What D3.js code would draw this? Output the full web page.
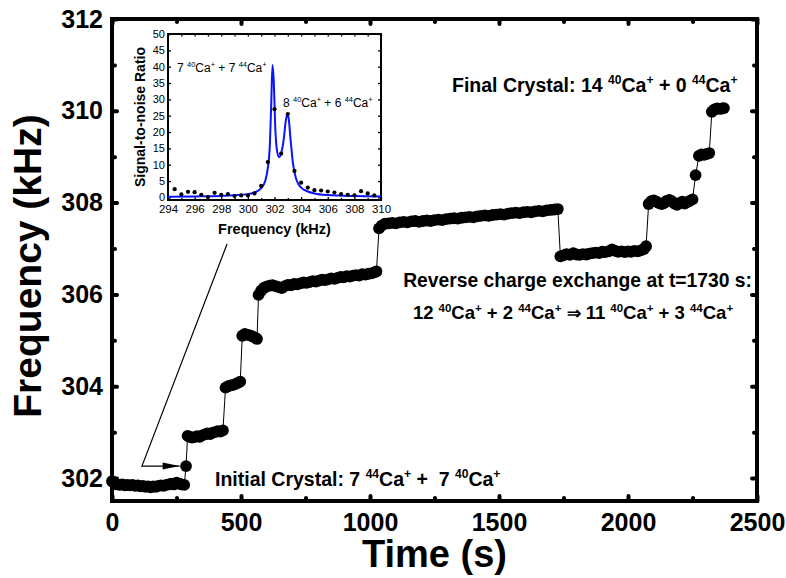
<!DOCTYPE html>
<html><head><meta charset="utf-8">
<script src="https://cdn.jsdelivr.net/npm/d3@7"></script>
<style>body{margin:0;background:#fff}svg{display:block}text{white-space:pre}</style>
</head><body>
<script>
// ---------- main series: frequency (kHz) vs time (s), one array per plateau ----------
const plateau1 = [[0,301.93],[10,301.88],[20,301.86],[30,301.85],[40,301.86],[50,301.84],[60,301.85],[70,301.84],[80,301.85],[90,301.83],[100,301.84],[110,301.82],[120,301.83],[130,301.81],[140,301.82],[150,301.80],[160,301.82],[170,301.81],[180,301.83],[190,301.84],[200,301.83],[210,301.85],[220,301.86],[230,301.88],[240,301.86],[250,301.90],[260,301.88],[270,301.86],[280,301.85]];
const single1 = [[287,302.26]];
const plateau2 = [[293,302.92],[300,302.90],[310,302.88],[320,302.89],[330,302.91],[340,302.90],[350,302.93],[360,302.95],[370,302.97],[380,302.96],[390,302.99],[400,303.00],[410,303.02],[420,303.01],[430,303.04]];
const plateau3 = [[440,303.97],[450,304.00],[460,304.02],[470,304.03],[480,304.05],[490,304.08],[497,304.10]];
const plateau4 = [[505,305.10],[515,305.14],[525,305.12],[535,305.11],[545,305.08],[555,305.06],[562,305.03]];
const plateau5 = [[568,305.99],[578,306.08],[588,306.14],[598,306.17],[610,306.19],[622,306.20],[634,306.18],[646,306.16],[658,306.14],[670,306.18],[682,306.21],[694,306.20],[706,306.23],[718,306.22],[730,306.24],[742,306.26],[754,306.25],[766,306.27],[778,306.29],[790,306.28],[802,306.30],[814,306.32],[826,306.31],[838,306.33],[850,306.35],[862,306.34],[874,306.36],[886,306.38],[898,306.37],[910,306.40],[922,306.39],[934,306.41],[946,306.42],[958,306.41],[970,306.44],[982,306.43],[994,306.45],[1006,306.46],[1016,306.48],[1025,306.50]];
const plateau6 = [[1035,307.44],[1045,307.50],[1058,307.54],[1072,307.55],[1086,307.56],[1100,307.55],[1115,307.57],[1130,307.58],[1145,307.57],[1160,307.59],[1175,307.60],[1190,307.58],[1205,307.60],[1220,307.61],[1235,307.60],[1250,307.62],[1265,307.63],[1280,307.62],[1295,307.64],[1310,307.65],[1325,307.66],[1340,307.65],[1355,307.67],[1370,307.68],[1385,307.69],[1400,307.68],[1415,307.70],[1430,307.71],[1445,307.72],[1460,307.71],[1475,307.73],[1490,307.74],[1505,307.75],[1520,307.74],[1535,307.76],[1550,307.77],[1565,307.78],[1580,307.77],[1595,307.79],[1610,307.80],[1625,307.79],[1640,307.81],[1655,307.82],[1670,307.81],[1685,307.83],[1700,307.84],[1715,307.85],[1728,307.86]];
const plateau7 = [[1738,306.83],[1750,306.85],[1762,306.88],[1775,306.86],[1788,306.90],[1800,306.87],[1812,306.86],[1825,306.88],[1838,306.87],[1850,306.89],[1862,306.90],[1875,306.91],[1888,306.90],[1900,306.93],[1912,306.92],[1925,306.94],[1938,306.98],[1950,306.95],[1962,306.93],[1975,306.94],[1988,306.92],[2000,306.94],[2012,306.93],[2025,306.95],[2038,306.94],[2050,306.96],[2062,306.99],[2070,307.05]];
const plateau8 = [[2080,307.97],[2090,308.03],[2100,308.05],[2110,308.02],[2120,307.99],[2130,307.97],[2140,307.99],[2150,308.04],[2160,308.06],[2170,308.03],[2180,307.98],[2190,307.95],[2200,307.99],[2210,308.02],[2220,307.98],[2230,308.01],[2240,308.04],[2250,308.07]];
const single2 = [[2262,308.60]];
const plateau9 = [[2275,309.02],[2285,309.05],[2295,309.04],[2305,309.06],[2315,309.08]];
const plateau10 = [[2325,309.98],[2335,310.03],[2345,310.05],[2355,310.04],[2365,310.05],[2372,310.06]];

const xTicks = [0,500,1000,1500,2000,2500];
const xMinor = [250,750,1250,1750,2250];
const yTicks = [302,304,306,308,310,312];
const yMinor = [303,305,307,309,311];

// ---------- inset: SNR vs frequency ----------
const insetPoints = [[294.5,2.5],[295,0.9],[295.5,1.7],[296,1.6],[296.5,0.8],[297,0.1],[297.5,1.4],[298,0.8],[298.5,1.0],[299,0.4],[299.5,0.6],[300,0.6],[300.5,1.2],[301,3.5],[301.5,10.8],[302,27],[302.5,13.4],[303,25.5],[303.5,8.1],[304,4.5],[304.5,3.0],[305,2.2],[305.5,2.1],[306,1.8],[306.5,1.5],[307,1.0],[307.5,0.8],[308,0.6],[308.5,1.9],[309,1.2],[309.5,0.6]];
const fitCurve = [[294,0.2],[296,0.3],[298,0.45],[299,0.65],[300,1.0],[300.5,1.5],[301,2.8],[301.3,5],[301.5,9],[301.65,16],[301.75,28],[301.85,40.5],[301.95,35],[302.05,22],[302.2,14],[302.35,12.3],[302.5,13.5],[302.7,18],[302.85,23.5],[302.95,25.3],[303.05,24.5],[303.2,18],[303.4,10],[303.6,6],[303.8,4],[304,3],[304.5,1.8],[305,1.2],[306,0.7],[308,0.4],[310,0.3]];
const insetXTicks = [294,296,298,300,302,304,306,308,310];
const insetXMinor = [295,297,299,301,303,305,307,309];
const insetYTicks = [0,5,10,15,20,25,30,35,40,45,50];

// annotation anchor points in data coordinates (time, frequency)
const arrowPath = [[446,307.1],[116,302.26],[262,302.26]];

const W = 786, H = 578;
const FONT = "'Liberation Sans', Arial, Helvetica, sans-serif";
const svg = d3.select("body").append("svg").attr("width", W).attr("height", H)
  .style("font-family", FONT);

const x = d3.scaleLinear().domain([0,2500]).range([112,757]);
const y = d3.scaleLinear().domain([301.5,312]).range([501,19]);

function styleAxis(g, sw){
  g.select(".domain").remove();
  g.selectAll(".tick line").attr("stroke","#000").attr("stroke-width",sw).attr("stroke-linecap","round");
}
svg.append("g").attr("transform",`translate(0,${y.range()[0]})`)
  .call(d3.axisBottom(x).tickValues(xTicks).tickSize(-5).tickPadding(12).tickFormat(d3.format("d")))
  .call(g=>{styleAxis(g,4); g.selectAll("text").attr("font-size",25).attr("font-weight","bold").attr("fill","#000");});
svg.append("g").attr("transform",`translate(0,${y.range()[0]})`)
  .call(d3.axisBottom(x).tickValues(xMinor).tickSize(-3).tickFormat(""))
  .call(g=>styleAxis(g,4));
svg.append("g").attr("transform",`translate(0,${y.range()[1]})`)
  .call(d3.axisTop(x).tickValues(xTicks).tickSize(-5).tickFormat(""))
  .call(g=>styleAxis(g,4));
svg.append("g").attr("transform",`translate(0,${y.range()[1]})`)
  .call(d3.axisTop(x).tickValues(xMinor).tickSize(-3).tickFormat(""))
  .call(g=>styleAxis(g,4));
svg.append("g").attr("transform",`translate(${x.range()[0]},0)`)
  .call(d3.axisLeft(y).tickValues(yTicks).tickSize(-5).tickPadding(9).tickFormat(d3.format("d")))
  .call(g=>{styleAxis(g,4); g.selectAll("text").attr("font-size",25).attr("font-weight","bold").attr("fill","#000");});
svg.append("g").attr("transform",`translate(${x.range()[0]},0)`)
  .call(d3.axisLeft(y).tickValues(yMinor).tickSize(-3).tickFormat(""))
  .call(g=>styleAxis(g,4));
svg.append("g").attr("transform",`translate(${x.range()[1]},0)`)
  .call(d3.axisRight(y).tickValues(yTicks).tickSize(-5).tickFormat(""))
  .call(g=>styleAxis(g,4));
svg.append("g").attr("transform",`translate(${x.range()[1]},0)`)
  .call(d3.axisRight(y).tickValues(yMinor).tickSize(-3).tickFormat(""))
  .call(g=>styleAxis(g,4));

svg.append("rect").attr("x",x.range()[0]).attr("y",y.range()[1])
  .attr("width",x.range()[1]-x.range()[0]).attr("height",y.range()[0]-y.range()[1])
  .attr("fill","none").attr("stroke","#000").attr("stroke-width",4);

svg.append("text").attr("x",(x.range()[0]+x.range()[1])/2).attr("y",567)
  .attr("text-anchor","middle").attr("font-size",38).attr("font-weight","bold").text("Time (s)");
svg.append("text").attr("transform",`translate(41,266) rotate(-90)`)
  .attr("text-anchor","middle").attr("font-size",39).attr("font-weight","bold").text("Frequency (kHz)");

const allData = [].concat(plateau1,single1,plateau2,plateau3,plateau4,plateau5,plateau6,plateau7,plateau8,single2,plateau9,plateau10);
svg.append("path").datum(allData)
  .attr("d", d3.line().x(d=>x(d[0])).y(d=>y(d[1])))
  .attr("fill","none").attr("stroke","#000").attr("stroke-width",1);
svg.append("g").selectAll("circle").data(allData).join("circle")
  .attr("cx",d=>x(d[0])).attr("cy",d=>y(d[1])).attr("r",5.9).attr("fill","#000");

function rich(parent, px, py, parts, fs, anchor, weight){
  const t = parent.append("text").attr("x",px).attr("y",py).attr("font-size",fs)
    .attr("font-weight",weight||"bold").attr("text-anchor",anchor||"start");
  let up = false;
  parts.forEach(p=>{
    const sup = p[1];
    const ts = t.append("tspan").text(p[0]);
    if (p[2]) ts.attr("font-size", p[2]);
    if (sup) { ts.attr("font-size", fs*0.62); if(!up){ ts.attr("dy", -fs*0.4); up = true; } }
    else if (up) { ts.attr("dy", fs*0.4); up = false; }
  });
  return t;
}
rich(svg, 452, 92, [["Final Crystal: 14 ",0],["40",1],["Ca",0],["+",1],[" + 0 ",0],["44",1],["Ca",0],["+",1]], 19.5);
rich(svg, 752, 287, [["Reverse charge exchange at t=1730 s:",0]], 19.3, "end");
rich(svg, 573, 319, [["12 ",0],["40",1],["Ca",0],["+",1],[" + 2 ",0],["44",1],["Ca",0],["+",1],[" ",0],["\u21D2",0,17],[" 11 ",0],["40",1],["Ca",0],["+",1],[" + 3 ",0],["44",1],["Ca",0],["+",1]], 18.5, "middle");
rich(svg, 215, 486, [["Initial Crystal: 7 ",0],["44",1],["Ca",0],["+",1],[" +  7 ",0],["40",1],["Ca",0],["+",1]], 19.5);

const ap = arrowPath.map(d=>[x(d[0]),y(d[1])]);
svg.append("path").attr("d", d3.line()(ap)).attr("fill","none").attr("stroke","#000").attr("stroke-width",1.2);
const tip = ap[ap.length-1];
svg.append("path").attr("d",`M${tip[0]},${tip[1]} L${tip[0]-17},${tip[1]-3.5} L${tip[0]-17},${tip[1]+3.5} Z`).attr("fill","#000");

// ---------- inset ----------
const xi = d3.scaleLinear().domain([294,310]).range([168,381]);
const yi = d3.scaleLinear().domain([-0.8,50]).range([200,34]);
const ins = svg.append("g");
ins.append("rect").attr("x",xi.range()[0]).attr("y",yi.range()[1]).attr("width",xi.range()[1]-xi.range()[0])
  .attr("height",yi.range()[0]-yi.range()[1]).attr("fill","#fff");
function styleInset(g){ g.select(".domain").remove(); g.selectAll(".tick line").attr("stroke","#000").attr("stroke-width",1.3); }
ins.append("g").attr("transform",`translate(0,${yi.range()[0]})`)
  .call(d3.axisBottom(xi).tickValues(insetXTicks).tickSize(-3).tickPadding(5).tickFormat(d3.format("d")))
  .call(g=>{styleInset(g); g.selectAll("text").attr("font-size",11.5).attr("fill","#000");});
ins.append("g").attr("transform",`translate(0,${yi.range()[0]})`)
  .call(d3.axisBottom(xi).tickValues(insetXMinor).tickSize(-2).tickFormat("")).call(styleInset);
ins.append("g").attr("transform",`translate(0,${yi.range()[1]})`)
  .call(d3.axisTop(xi).tickValues(insetXTicks.concat(insetXMinor)).tickSize(-2.5).tickFormat("")).call(styleInset);
ins.append("g").attr("transform",`translate(${xi.range()[0]},0)`)
  .call(d3.axisLeft(yi).tickValues(insetYTicks).tickSize(-3).tickPadding(3).tickFormat(d3.format("d")))
  .call(g=>{styleInset(g); g.selectAll("text").attr("font-size",11).attr("fill","#000");});
ins.append("g").attr("transform",`translate(${xi.range()[1]},0)`)
  .call(d3.axisRight(yi).tickValues(insetYTicks).tickSize(-3).tickFormat("")).call(styleInset);
ins.append("rect").attr("x",xi.range()[0]).attr("y",yi.range()[1]).attr("width",xi.range()[1]-xi.range()[0])
  .attr("height",yi.range()[0]-yi.range()[1]).attr("fill","none").attr("stroke","#000").attr("stroke-width",2);
ins.append("path").datum(fitCurve)
  .attr("d", d3.line().curve(d3.curveMonotoneX).x(d=>xi(d[0])).y(d=>yi(d[1])))
  .attr("fill","none").attr("stroke","#0a14ff").attr("stroke-width",2);
ins.append("g").selectAll("circle").data(insetPoints).join("circle")
  .attr("cx",d=>xi(d[0])).attr("cy",d=>yi(d[1])).attr("r",2.1).attr("fill","#000");
ins.append("text").attr("x",(xi.range()[0]+xi.range()[1])/2).attr("y",234).attr("text-anchor","middle")
  .attr("font-size",14.5).attr("font-weight","bold").text("Frequency (kHz)");
ins.append("text").attr("transform",`translate(145,${(yi.range()[0]+yi.range()[1])/2}) rotate(-90)`)
  .attr("text-anchor","middle").attr("font-size",14).attr("font-weight","bold").text("Signal-to-noise Ratio");
rich(ins, 177, 72, [["7 ",0],["40",1],["Ca",0],["+",1],[" + 7 ",0],["44",1],["Ca",0],["+",1]], 12, "start", "normal");
rich(ins, 283, 107, [["8 ",0],["40",1],["Ca",0],["+",1],[" + 6 ",0],["44",1],["Ca",0],["+",1]], 12, "start", "normal");
</script>
</body></html>
